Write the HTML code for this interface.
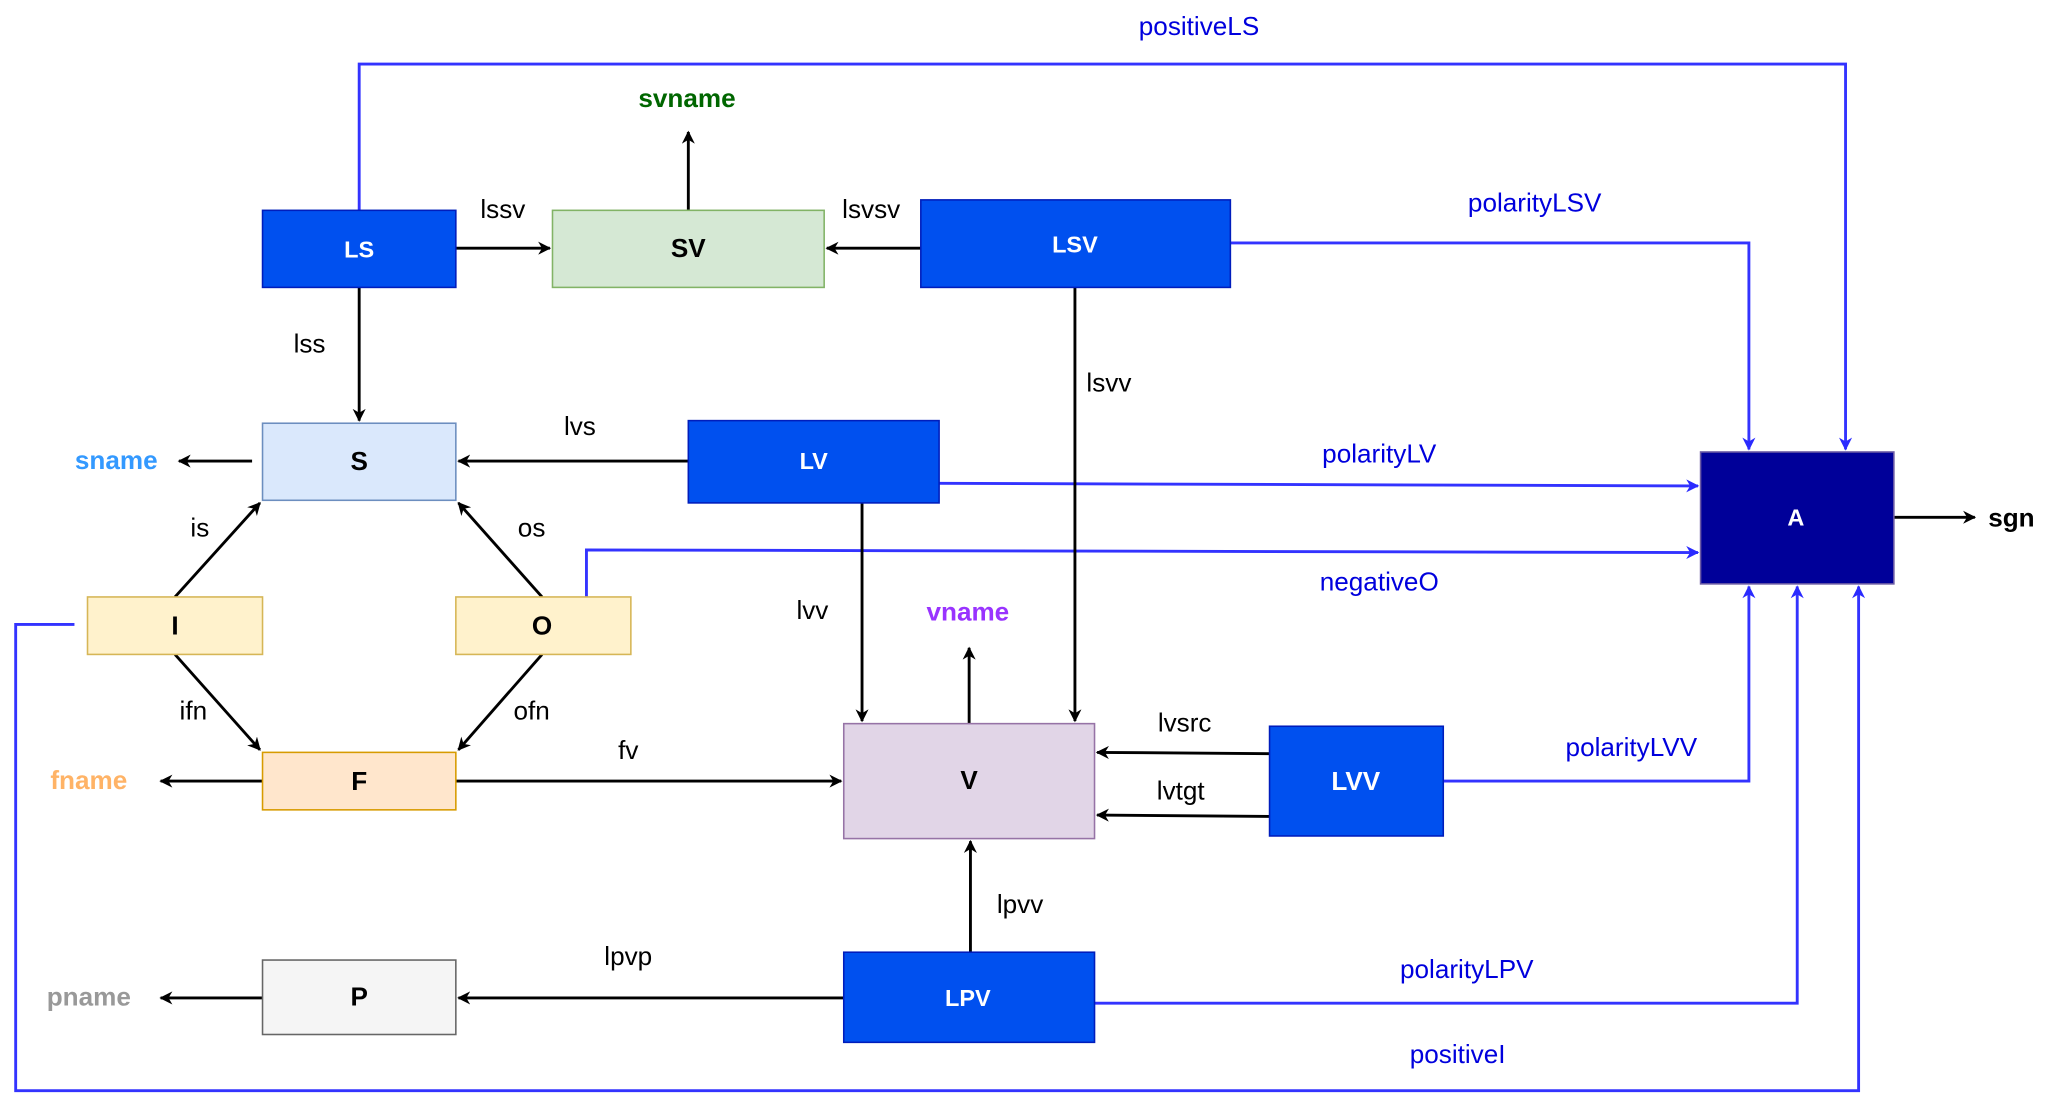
<!DOCTYPE html>
<html><head><meta charset="utf-8"><style>
html,body{margin:0;padding:0;background:#fff;}
svg{display:block;}
text{font-family:"Liberation Sans",Arial,sans-serif;}
</style></head><body>
<svg width="2048" height="1109" viewBox="0 0 1568 849" xmlns="http://www.w3.org/2000/svg">
<defs>
<marker id="ak" markerWidth="10" markerHeight="10" refX="9" refY="5" orient="auto" markerUnits="userSpaceOnUse"><path d="M0,0 L10,5 L0,10 L3,5 z" fill="#000"/></marker>
<marker id="ab" markerWidth="10" markerHeight="10" refX="9" refY="5" orient="auto" markerUnits="userSpaceOnUse"><path d="M0,0 L10,5 L0,10 L3,5 z" fill="#2a2aff"/></marker>
</defs>
<!-- blue connectors -->
<g fill="none" stroke="#3333ff" stroke-width="2.2">
<polyline points="275,161 275,49 1413,49 1413,344" marker-end="url(#ab)"/>
<polyline points="942,186 1339,186 1339,344" marker-end="url(#ab)"/>
<polyline points="719,370 1300,372" marker-end="url(#ab)"/>
<polyline points="449,457 449,421 1300,423" marker-end="url(#ab)"/>
<polyline points="1105,598 1339,598 1339,449" marker-end="url(#ab)"/>
<polyline points="838,768 1376,768 1376,449" marker-end="url(#ab)"/>
<polyline points="57,478 12,478 12,835 1423,835 1423,449" marker-end="url(#ab)"/>
</g>
<!-- black connectors -->
<g fill="none" stroke="#000" stroke-width="2.2" marker-end="url(#ak)">
<line x1="349" y1="190" x2="421" y2="190"/>
<line x1="705" y1="190" x2="633" y2="190"/>
<line x1="527" y1="161" x2="527" y2="101"/>
<line x1="275" y1="220" x2="275" y2="322"/>
<line x1="823" y1="220" x2="823" y2="552"/>
<line x1="527" y1="353" x2="351" y2="353"/>
<line x1="193" y1="353" x2="137" y2="353"/>
<line x1="134" y1="457" x2="199" y2="385"/>
<line x1="415" y1="457" x2="351" y2="385"/>
<line x1="134" y1="501" x2="199" y2="574"/>
<line x1="415" y1="501" x2="351" y2="574"/>
<line x1="660" y1="385" x2="660" y2="552"/>
<line x1="742" y1="554" x2="742" y2="496"/>
<line x1="201" y1="598" x2="123" y2="598"/>
<line x1="349" y1="598" x2="644" y2="598"/>
<line x1="972" y1="577" x2="840" y2="576"/>
<line x1="972" y1="625" x2="840" y2="624"/>
<line x1="743" y1="729" x2="743" y2="644"/>
<line x1="646" y1="764" x2="351" y2="764"/>
<line x1="201" y1="764" x2="123" y2="764"/>
<line x1="1450" y1="396" x2="1512" y2="396"/>
</g>
<!-- nodes -->
<g stroke-width="1.2">
<rect x="201" y="161" width="148" height="59" fill="#0050ef" stroke="#001dbc"/>
<rect x="423" y="161" width="208" height="59" fill="#d5e8d4" stroke="#82b366"/>
<rect x="705" y="153" width="237" height="67" fill="#0050ef" stroke="#001dbc"/>
<rect x="201" y="324" width="148" height="59" fill="#dae8fc" stroke="#6c8ebf"/>
<rect x="527" y="322" width="192" height="63" fill="#0050ef" stroke="#001dbc"/>
<rect x="1302" y="346" width="148" height="101" fill="#000099" stroke="#6c5ca5"/>
<rect x="67" y="457" width="134" height="44" fill="#fff2cc" stroke="#d6b656"/>
<rect x="349" y="457" width="134" height="44" fill="#fff2cc" stroke="#d6b656"/>
<rect x="201" y="576" width="148" height="44" fill="#ffe6cc" stroke="#d79b00"/>
<rect x="646" y="554" width="192" height="88" fill="#e1d5e7" stroke="#9673a6"/>
<rect x="972" y="556" width="133" height="84" fill="#0050ef" stroke="#001dbc"/>
<rect x="201" y="735" width="148" height="57" fill="#f5f5f5" stroke="#666666"/>
<rect x="646" y="729" width="192" height="69" fill="#0050ef" stroke="#001dbc"/>
</g>
<g font-weight="bold" font-size="20" text-anchor="middle" dominant-baseline="central">
<text x="275" y="191" fill="#fff" font-size="18">LS</text>
<text x="527" y="190" fill="#000">SV</text>
<text x="823" y="187" fill="#fff" font-size="18">LSV</text>
<text x="275" y="353" fill="#000">S</text>
<text x="623" y="353" fill="#fff" font-size="18">LV</text>
<text x="1375" y="396" fill="#fff" font-size="18">A</text>
<text x="134" y="479" fill="#000">I</text>
<text x="415" y="479" fill="#000">O</text>
<text x="275" y="598" fill="#000">F</text>
<text x="742" y="597" fill="#000">V</text>
<text x="1038" y="598" fill="#fff">LVV</text>
<text x="275" y="763" fill="#000">P</text>
<text x="741" y="764" fill="#fff" font-size="18">LPV</text>
<text x="526" y="75" fill="#006600">svname</text>
<text x="89" y="352" fill="#3399ff">sname</text>
<text x="741" y="468" fill="#9933ff">vname</text>
<text x="68" y="597" fill="#ffb366">fname</text>
<text x="68" y="763" fill="#999999">pname</text>
<text x="1540" y="396" fill="#000">sgn</text>
</g>
<g font-size="20" text-anchor="middle" dominant-baseline="central" fill="#000">
<text x="385" y="160">lssv</text>
<text x="667" y="160">lsvsv</text>
<text x="237" y="263">lss</text>
<text x="849" y="293">lsvv</text>
<text x="444" y="326">lvs</text>
<text x="153" y="404">is</text>
<text x="407" y="404">os</text>
<text x="148" y="544">ifn</text>
<text x="407" y="544">ofn</text>
<text x="622" y="467">lvv</text>
<text x="481" y="574">fv</text>
<text x="907" y="553">lvsrc</text>
<text x="904" y="605">lvtgt</text>
<text x="781" y="692">lpvv</text>
<text x="481" y="732">lpvp</text>
</g>
<g font-size="20" text-anchor="middle" dominant-baseline="central" fill="#0000dd">
<text x="918" y="20">positiveLS</text>
<text x="1175" y="155">polarityLSV</text>
<text x="1056" y="347">polarityLV</text>
<text x="1056" y="445">negativeO</text>
<text x="1249" y="572">polarityLVV</text>
<text x="1123" y="742">polarityLPV</text>
<text x="1116" y="807">positiveI</text>
</g>
</svg>
</body></html>
